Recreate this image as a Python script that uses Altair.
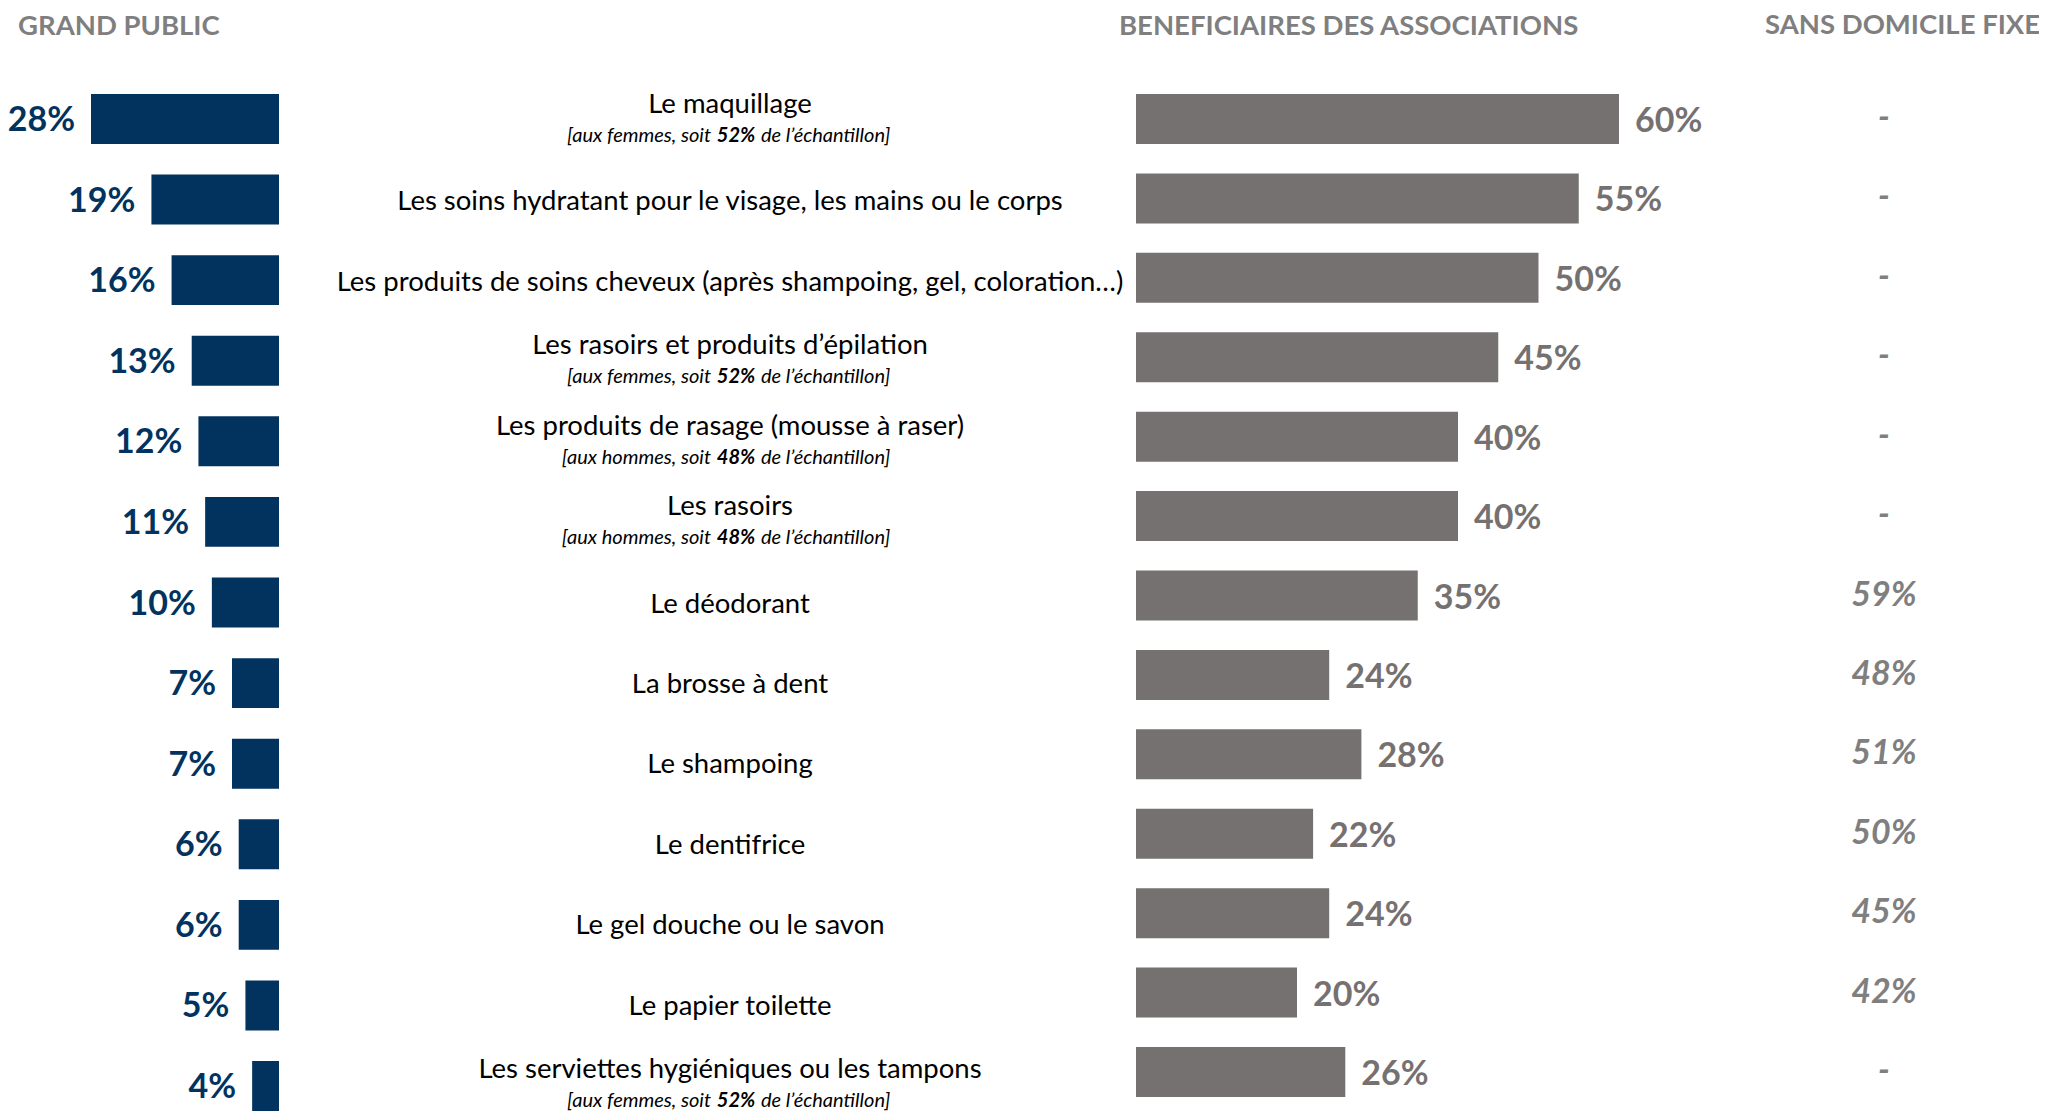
import altair as alt
import pandas as pd

# ---------------- data ----------------
labels = [
    "Le maquillage",
    "Les soins hydratant pour le visage, les mains ou le corps",
    "Les produits de soins cheveux (après shampoing, gel, coloration…)",
    "Les rasoirs et produits d’épilation",
    "Les produits de rasage (mousse à raser)",
    "Les rasoirs",
    "Le déodorant",
    "La brosse à dent",
    "Le shampoing",
    "Le dentifrice",
    "Le gel douche ou le savon",
    "Le papier toilette",
    "Les serviettes hygiéniques ou les tampons",
]
sub_group = ["femmes", "", "", "femmes", "hommes", "hommes", "", "", "", "", "", "", "femmes"]
sub_share = ["52%", "", "", "52%", "48%", "48%", "", "", "", "", "", "", "52%"]
grand_public = [28, 19, 16, 13, 12, 11, 10, 7, 7, 6, 6, 5, 4]
beneficiaires = [60, 55, 50, 45, 40, 40, 35, 24, 28, 22, 24, 20, 26]
sans_domicile = [None, None, None, None, None, None, 59, 48, 51, 50, 45, 42, None]
headers = ["GRAND PUBLIC", "BENEFICIAIRES DES ASSOCIATIONS", "SANS DOMICILE FIXE"]

df = pd.DataFrame({
    "label": labels,
    "grp": sub_group,
    "share": sub_share,
    "gp": grand_public,
    "ben": beneficiaires,
    "sdf": sans_domicile,
})
df["has_sub"] = df["grp"] != ""
df["gp_txt"] = df["gp"].astype(str) + "%"
df["ben_txt"] = df["ben"].astype(str) + "%"
df["sdf_txt"] = [("-" if v is None or pd.isna(v) else f"{int(v)}%") for v in df["sdf"]]
df["sub_left"] = ["[aux " + g + ", soit" if g else "" for g in df["grp"]]
df["sub_right"] = ["de l’échantillon]" if g else "" for g in df["grp"]]

# ---------------- styles ----------------
FONT = "Lato"
NAVY = "#02335f"
GREY_BAR = "#767171"
GREY_TXT = "#7f7f7f"

W, H = 2031, 1104


def yscale(lo, hi, pin):
    return alt.Y("label:N", sort=labels, axis=None,
                 scale=alt.Scale(type="band", domain=labels, range=[lo, hi],
                                 paddingInner=pin, paddingOuter=0))


y_left = yscale(86, 1103, 0.381)
y_lab = yscale(85, 1100, 0.38)
y_grey = yscale(86, 1089, 0.37)

x_gp = alt.X("gp:Q", axis=None, scale=alt.Scale(domain=[0, 28], range=[271, 83]))
x_ben = alt.X("ben:Q", axis=None, scale=alt.Scale(domain=[0, 60], range=[1128, 1611]))

base = alt.Chart(df)

left_bars = base.mark_bar(color=NAVY).encode(x=x_gp, y=y_left)
left_txt = base.mark_text(align="right", baseline="middle", dx=-16, dy=2, font=FONT,
                          fontSize=34, fontWeight="bold", color=NAVY).encode(
    x=x_gp, y=y_left, text="gp_txt:N")

lab_sub = base.transform_filter("datum.has_sub").mark_text(
    align="center", baseline="middle", dy=-13, font=FONT, fontSize=27.5, color="#000000"
).encode(x=alt.value(722), y=y_lab, text="label:N")
lab_nosub = base.transform_filter("!datum.has_sub").mark_text(
    align="center", baseline="middle", dy=4, font=FONT, fontSize=27.5, color="#000000"
).encode(x=alt.value(722), y=y_lab, text="label:N")

sub_style = dict(baseline="middle", dy=18, font=FONT, fontSize=20, fontStyle="italic",
                 color="#000000")
sub_l = base.transform_filter("datum.has_sub").mark_text(align="right", **sub_style).encode(
    x=alt.value(703), y=y_lab, text="sub_left:N")
sub_m = base.transform_filter("datum.has_sub").mark_text(
    align="center", fontWeight="bold", **sub_style).encode(
    x=alt.value(728), y=y_lab, text="share:N")
sub_r = base.transform_filter("datum.has_sub").mark_text(align="left", **sub_style).encode(
    x=alt.value(753), y=y_lab, text="sub_right:N")

grey_bars = base.mark_bar(color=GREY_BAR).encode(x=x_ben, y=y_grey)
grey_txt = base.mark_text(align="left", baseline="middle", dx=16, dy=3, font=FONT,
                          fontSize=34, fontWeight="bold", color=GREY_BAR).encode(
    x=x_ben, y=y_grey, text="ben_txt:N")

sdf_txt = base.mark_text(align="center", baseline="middle", dy=0, font=FONT,
                         fontSize=34, fontWeight="bold", fontStyle="italic",
                         color=GREY_TXT).encode(
    x=alt.value(1876), y=y_grey, text="sdf_txt:N")

hdf = pd.DataFrame({"h": headers})
hdr_style = dict(align="left", baseline="middle", font=FONT, fontSize=27.5,
                 fontWeight="bold", color=GREY_TXT)
h1 = alt.Chart(hdf).transform_filter(alt.datum.h == headers[0]).mark_text(**hdr_style).encode(
    x=alt.value(10), y=alt.value(19), text="h:N")
h2 = alt.Chart(hdf).transform_filter(alt.datum.h == headers[1]).mark_text(**hdr_style).encode(
    x=alt.value(1111), y=alt.value(19), text="h:N")
h3 = alt.Chart(hdf).transform_filter(alt.datum.h == headers[2]).mark_text(**hdr_style).encode(
    x=alt.value(1757), y=alt.value(18), text="h:N")

chart = alt.layer(
    left_bars, left_txt, lab_sub, lab_nosub, sub_l, sub_m, sub_r,
    grey_bars, grey_txt, sdf_txt, h1, h2, h3,
).resolve_scale(x="independent", y="independent").properties(
    width=W, height=H, padding=0,
    autosize=alt.AutoSizeParams(type="none"),
    background="white",
).configure_view(stroke=None)

chart.save("out.html", embed_options={"renderer": "svg", "actions": False})
